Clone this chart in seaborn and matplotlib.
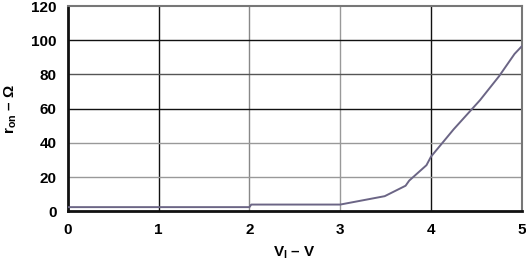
import matplotlib
matplotlib.use("Agg")
import matplotlib.pyplot as plt
import seaborn as sns
import pandas as pd

vi = [0.0, 1.0, 2.0, 2.02, 2.5, 3.0, 3.49, 3.72, 3.76, 3.95, 4.0, 4.25, 4.54, 4.75, 4.92, 5.0]
ron = [2.5, 2.5, 2.5, 4.0, 4.0, 4.0, 8.9, 15.0, 18.0, 27.0, 32.0, 48.0, 65.0, 79.0, 92.0, 96.5]
xticks = [0, 1, 2, 3, 4, 5]
yticks = [0, 20, 40, 60, 80, 100, 120]

sns.set_theme(style="white")
plt.rcParams['font.family'] = ['Liberation Sans', 'DejaVu Sans']
plt.rcParams['mathtext.fontset'] = 'custom'
plt.rcParams['mathtext.rm'] = 'Liberation Sans:bold'
plt.rcParams['mathtext.bf'] = 'Liberation Sans:bold'
plt.rcParams['mathtext.it'] = 'Liberation Sans:bold'
plt.rcParams['text.color'] = 'black'
plt.rcParams['axes.labelcolor'] = 'black'
plt.rcParams['xtick.color'] = 'black'
plt.rcParams['ytick.color'] = 'black'

df = pd.DataFrame({"vi": vi, "ron": ron})
fig = plt.figure(figsize=(5.26, 2.61), dpi=100)
ax = fig.add_axes([0.129, 0.19, 0.863, 0.787])

vcol = {1: "#111111", 2: "#888888", 3: "#999999", 4: "#111111"}
hcol = {20: "#999999", 40: "#999999", 60: "#111111", 80: "#555555", 100: "#111111"}
for x, c in vcol.items():
    ax.axvline(x, color=c, lw=1.0, zorder=1)
for y, c in hcol.items():
    ax.axhline(y, color=c, lw=1.0, zorder=1)

sns.lineplot(data=df, x="vi", y="ron", ax=ax, color="#6b6585", lw=1.4, zorder=3)

ax.set_xlim(0, 5)
ax.set_ylim(0, 120)
ax.set_xticks(xticks)
ax.set_yticks(yticks)
ax.tick_params(axis="both", length=0, labelsize=11, pad=8)
for lab in ax.get_xticklabels() + ax.get_yticklabels():
    lab.set_fontweight("bold")

for s in ["left", "bottom"]:
    ax.spines[s].set_color("#111111")
    ax.spines[s].set_linewidth(2.0)
for s in ["top", "right"]:
    ax.spines[s].set_color("#777777")
    ax.spines[s].set_linewidth(1.5)

ax.set_xlabel(r"$\mathbf{V_I}$ – V", fontsize=11, fontweight="bold", labelpad=6)
ax.set_ylabel(r"$\mathbf{r_{on}}$ – Ω", fontsize=11, fontweight="bold", labelpad=9)

fig.savefig("out.png", dpi=100)
